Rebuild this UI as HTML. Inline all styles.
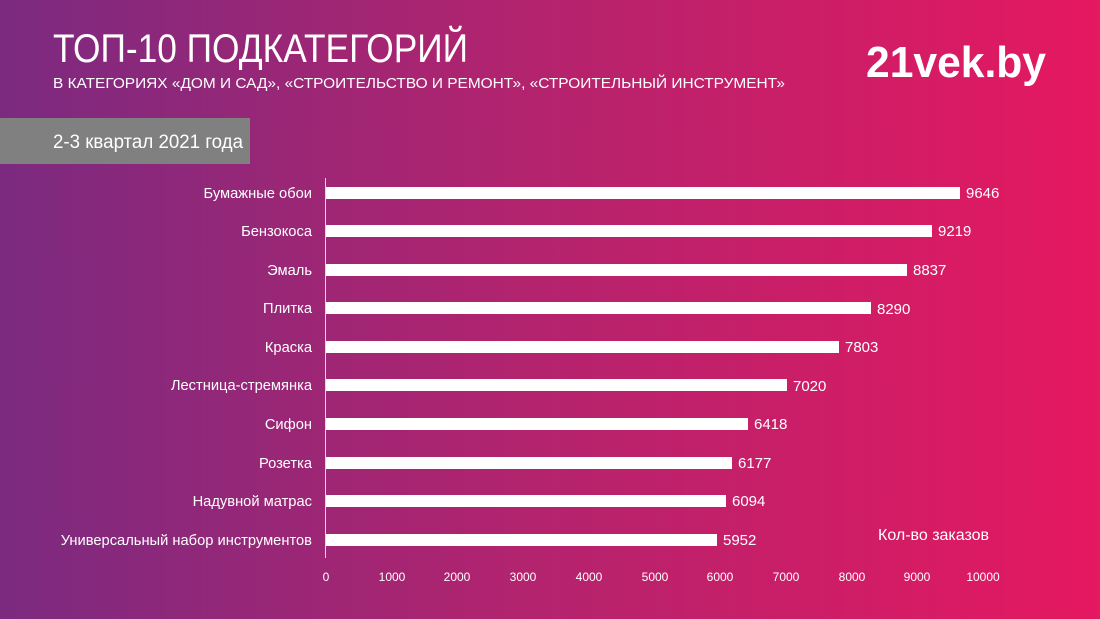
<!DOCTYPE html>
<html><head><meta charset="utf-8"><style>
html,body{margin:0;padding:0;width:1100px;height:619px;overflow:hidden}
svg{display:block}
text{font-family:"Liberation Sans Narrow","Liberation Sans",sans-serif;fill:#fff}
</style></head><body>
<svg width="1100" height="619" viewBox="0 0 1100 619">
<defs><linearGradient id="g" x1="0" x2="1" y1="0" y2="0">
<stop offset="0" stop-color="#7b2a80"/><stop offset="0.45" stop-color="#b0246f"/><stop offset="1" stop-color="#e51860"/></linearGradient></defs>
<rect width="1100" height="619" fill="url(#g)"/>
<text x="53" y="62" font-size="40" textLength="415" lengthAdjust="spacingAndGlyphs">ТОП-10 ПОДКАТЕГОРИЙ</text>
<text x="53" y="88" font-size="15" textLength="732" lengthAdjust="spacingAndGlyphs">В КАТЕГОРИЯХ «ДОМ И САД», «СТРОИТЕЛЬСТВО И РЕМОНТ», «СТРОИТЕЛЬНЫЙ ИНСТРУМЕНТ»</text>
<text x="866" y="77" font-size="44" font-weight="bold" font-family="Liberation Sans" textLength="180" lengthAdjust="spacingAndGlyphs">21vek.by</text>
<rect x="0" y="118" width="250" height="46" fill="#808080"/>
<text x="53" y="148" font-size="19" textLength="190" lengthAdjust="spacingAndGlyphs">2-3 квартал 2021 года</text>
<line x1="325.5" y1="178" x2="325.5" y2="558" stroke="#fff" stroke-width="1" opacity="0.8"/>
<g font-size="14.7" text-anchor="end">
<text x="312" y="198">Бумажные обои</text>
<text x="312" y="236">Бензокоса</text>
<text x="312" y="275">Эмаль</text>
<text x="312" y="313">Плитка</text>
<text x="312" y="352">Краска</text>
<text x="312" y="390">Лестница-стремянка</text>
<text x="312" y="429">Сифон</text>
<text x="312" y="468">Розетка</text>
<text x="312" y="506">Надувной матрас</text>
<text x="312" y="545">Универсальный набор инструментов</text>
</g>
<g fill="#fff">
<rect x="326" y="187" width="634" height="12"/>
<rect x="326" y="225" width="606" height="12"/>
<rect x="326" y="264" width="581" height="12"/>
<rect x="326" y="302" width="545" height="12"/>
<rect x="326" y="341" width="513" height="12"/>
<rect x="326" y="379" width="461" height="12"/>
<rect x="326" y="418" width="422" height="12"/>
<rect x="326" y="457" width="406" height="12"/>
<rect x="326" y="495" width="400" height="12"/>
<rect x="326" y="534" width="391" height="12"/>
</g>
<g font-size="15">
<text x="966" y="198">9646</text>
<text x="938" y="236">9219</text>
<text x="913" y="275">8837</text>
<text x="877" y="314">8290</text>
<text x="845" y="352">7803</text>
<text x="793" y="391">7020</text>
<text x="754" y="429">6418</text>
<text x="738" y="468">6177</text>
<text x="732" y="506">6094</text>
<text x="723" y="545">5952</text>
</g>
<text x="878" y="540" font-size="16">Кол-во заказов</text>
<g font-size="12" text-anchor="middle">
<text x="326" y="581">0</text><text x="392" y="581">1000</text><text x="457" y="581">2000</text>
<text x="523" y="581">3000</text><text x="589" y="581">4000</text><text x="655" y="581">5000</text>
<text x="720" y="581">6000</text><text x="786" y="581">7000</text><text x="852" y="581">8000</text>
<text x="917" y="581">9000</text><text x="983" y="581">10000</text>
</g>
</svg>
</body></html>
